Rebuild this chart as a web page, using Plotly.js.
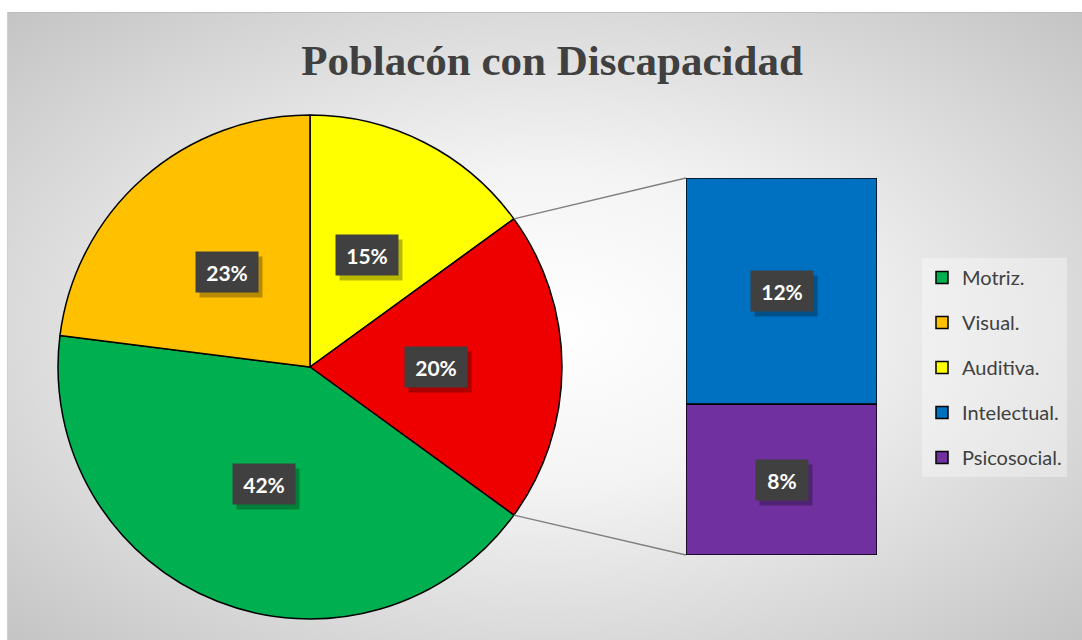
<!DOCTYPE html>
<html>
<head>
<meta charset="utf-8">
<script src="https://cdn.plot.ly/plotly-3.0.1.min.js"></script>
<style>
  html, body { margin: 0; padding: 0; background: #ffffff; }
  #wrap { position: relative; width: 1082px; height: 640px; overflow: hidden; }
  #bg {
    position: absolute; left: 7px; top: 12px; width: 1075px; height: 628px;
    background: radial-gradient(ellipse farthest-corner at 50% 50%, #ffffff 0%, #f4f4f4 35%, #c4c4c4 100%);
    border-top: 1px solid #bdbdbd; border-left: 1px solid #cfcfcf;
  }
  #chart { position: absolute; left: 0; top: 0; width: 1082px; height: 640px; }
</style>
</head>
<body>
<div id="wrap">
  <div id="bg"></div>
  <div id="chart"></div>
</div>
<script>
// pie slices, clockwise from 12 o'clock; "Otros" is split out into the bar
const pieLabels = ["Auditiva.", "Otros", "Motriz.", "Visual."];
const pieValues = [15, 20, 42, 23];
const pieColors = ["#FFFF00", "#EE0000", "#00B050", "#FFC000"];

// bar of pie, bottom to top
const barLabels = ["Psicosocial.", "Intelectual."];
const barValues = [8, 12];
const barColors = ["#7030A0", "#0070C0"];

const legendOrder = ["Motriz.", "Visual.", "Auditiva.", "Intelectual.", "Psicosocial."];

const W = 1082, H = 640;
const pieDomain = { x: [58 / W, 562 / W], y: [1 - 619 / H, 1 - 115 / H] };
const barDomainX = [686 / W, 877 / W];
const barDomainY = [1 - 555 / H, 1 - 178 / H];

const colorOf = {};
pieLabels.forEach((l, i) => { colorOf[l] = pieColors[i]; });
barLabels.forEach((l, i) => { colorOf[l] = barColors[i]; });

const traces = [{
  type: "pie",
  labels: pieLabels,
  values: pieValues,
  sort: false,
  direction: "clockwise",
  rotation: 0,
  domain: pieDomain,
  textinfo: "none",
  hoverinfo: "label+percent",
  showlegend: false,
  marker: { colors: pieColors, line: { color: "#000000", width: 1.5 } }
}];

// legend entries, in legend order; bar segments are real, pie ones are placeholders
const barBase = [];
let running = 0;
barValues.forEach(v => { barBase.push(running); running += v; });
const barTotal = running;

legendOrder.forEach(name => {
  const bi = barLabels.indexOf(name);
  traces.push({
    type: "bar",
    name: name,
    legendgroup: name,
    x: bi >= 0 ? [0] : [null],
    y: bi >= 0 ? [barValues[bi]] : [null],
    base: bi >= 0 ? [barBase[bi]] : undefined,
    width: 1,
    xaxis: "x",
    yaxis: "y",
    marker: { color: colorOf[name], line: { color: "#000000", width: 1.5 } },
    hoverinfo: "name+y"
  });
});

// pie geometry in pixels
const pcx = (pieDomain.x[0] + pieDomain.x[1]) / 2 * W;
const pcy = (1 - (pieDomain.y[0] + pieDomain.y[1]) / 2) * H;
const pr = Math.min((pieDomain.x[1] - pieDomain.x[0]) * W, (pieDomain.y[1] - pieDomain.y[0]) * H) / 2;
const pieTotal = pieValues.reduce((a, b) => a + b, 0);

function piePoint(frac, rr) {
  const a = frac * 2 * Math.PI;
  return [(pcx + Math.sin(a) * rr) / W, 1 - (pcy - Math.cos(a) * rr) / H];
}

const annotations = [];
function addLabel(x, y, xref, yref, txt) {
  const base = {
    x: x, y: y, xref: xref, yref: yref, showarrow: false,
    xanchor: "center", yanchor: "middle", borderpad: 10,
    width: txt.length > 2 ? 42 : 32, height: 20
  };
  // drop shadow box
  annotations.push(Object.assign({}, base, {
    text: "&nbsp;", xshift: 4, yshift: -5,
    bgcolor: "rgba(0,0,0,0.28)",
    font: { family: "Lato, sans-serif", size: 21, color: "rgba(0,0,0,0)" }
  }));
  annotations.push(Object.assign({}, base, {
    text: "<b>" + txt + "</b>",
    bgcolor: "#404040",
    font: { family: "Lato, 'Open Sans', sans-serif", size: 21, color: "#ffffff" }
  }));
}

let cum = 0;
pieValues.forEach((v, i) => {
  const mid = (cum + v / 2) / pieTotal;
  const p = piePoint(mid, pr * 0.5);
  addLabel(p[0], p[1], "paper", "paper", Math.round(v / pieTotal * 100) + "%");
  cum += v;
});

barValues.forEach((v, i) => {
  addLabel(0, barBase[i] + v / 2, "x", "y", Math.round(v / pieTotal * 100) + "%");
});

// connector lines from the split slice to the bar corners
const otherIdx = pieLabels.indexOf("Otros");
const startFrac = pieValues.slice(0, otherIdx).reduce((a, b) => a + b, 0) / pieTotal;
const endFrac = startFrac + pieValues[otherIdx] / pieTotal;
const pTop = piePoint(startFrac, pr);
const pBot = piePoint(endFrac, pr);
const shapes = [
  { type: "line", xref: "paper", yref: "paper", x0: pTop[0], y0: pTop[1], x1: barDomainX[0], y1: barDomainY[1],
    line: { color: "#7f7f7f", width: 1.5 } },
  { type: "line", xref: "paper", yref: "paper", x0: pBot[0], y0: pBot[1], x1: barDomainX[0], y1: barDomainY[0],
    line: { color: "#7f7f7f", width: 1.5 } }
];

const layout = {
  width: W,
  height: H,
  margin: { t: 0, b: 0, l: 0, r: 0 },
  paper_bgcolor: "rgba(0,0,0,0)",
  plot_bgcolor: "rgba(0,0,0,0)",
  title: {
    text: "<b>Poblacón con Discapacidad</b>",
    x: 552 / W, xanchor: "center",
    y: 1 - 60 / H, yanchor: "middle",
    font: { family: "'Liberation Serif', 'Times New Roman', serif", size: 43, color: "#404040" }
  },
  barmode: "overlay",
  xaxis: { domain: barDomainX, range: [-0.5, 0.5], visible: false, fixedrange: true },
  yaxis: { domain: barDomainY, range: [0, barTotal], visible: false, fixedrange: true },
  showlegend: true,
  legend: {
    x: 922 / W, xanchor: "left",
    y: 1 - 258 / H, yanchor: "top",
    traceorder: "grouped",
    tracegroupgap: 16,
    bgcolor: "rgba(255,255,255,0.35)",
    font: { family: "Lato, 'Open Sans', sans-serif", size: 20, color: "#404040" },
    itemclick: false, itemdoubleclick: false
  },
  shapes: shapes,
  annotations: annotations
};

Plotly.newPlot("chart", traces, layout, { displayModeBar: false });
</script>
</body>
</html>
